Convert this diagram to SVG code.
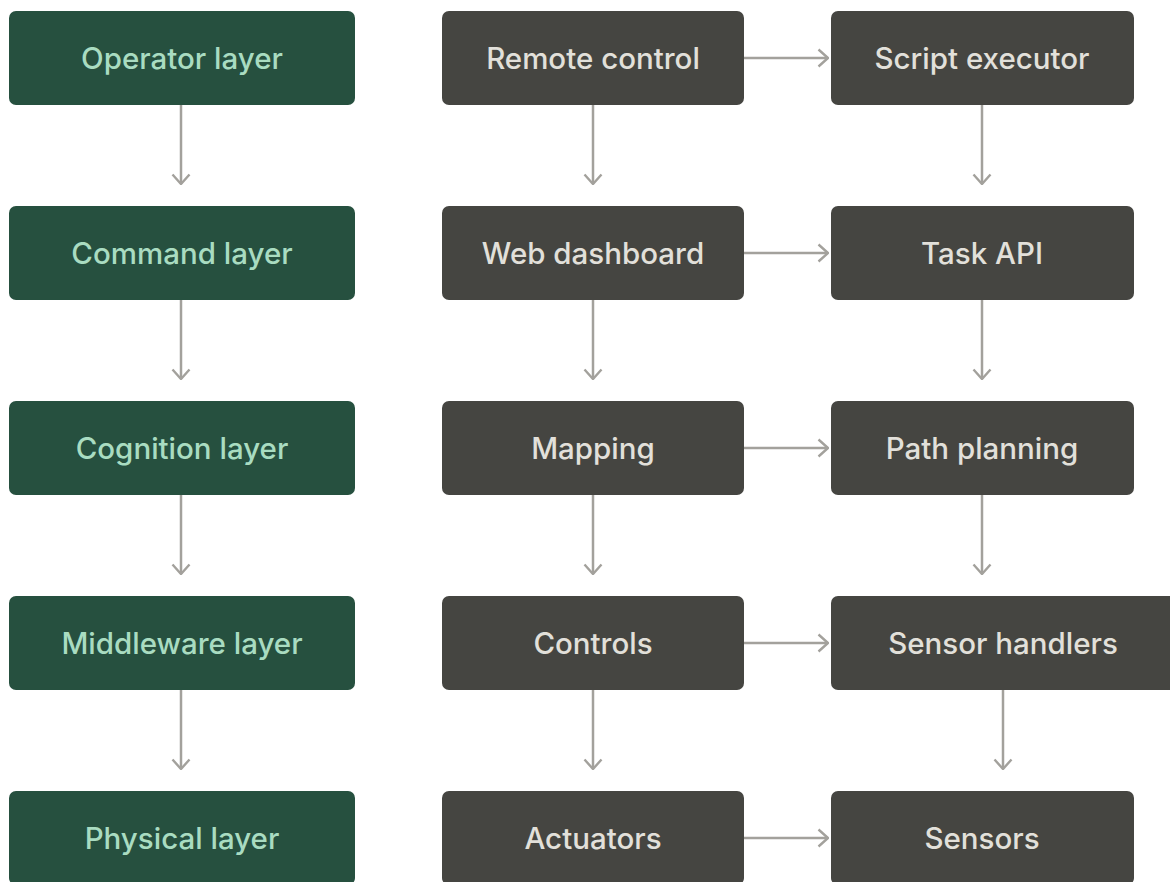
<svg xmlns="http://www.w3.org/2000/svg" width="1170" height="882" viewBox="0 0 1170 882">
<style>
.g rect{fill:#26503f}
.g text{fill:#a9dcc1}
.d rect{fill:#454541}
.d text{fill:#e2e0da}
text{font-family:Inter,"Noto Sans",sans-serif;font-size:29.5px;font-weight:500;text-anchor:middle;dominant-baseline:central}
.c path{fill:none;stroke:#a3a19c;stroke-width:2.5}
</style>
<defs>
<marker id="ah" viewBox="0 0 12 20" refX="11" refY="10" markerWidth="12" markerHeight="20" markerUnits="userSpaceOnUse" orient="auto">
<path d="M1.5,1.5 L11,10 L1.5,18.5" fill="none" stroke="#a3a19c" stroke-width="2.4"/>
</marker>
</defs>
<rect width="1170" height="882" fill="#ffffff"/>
<g class="c">
<path d="M181,105 V184" marker-end="url(#ah)"/>
<path d="M181,300 V379" marker-end="url(#ah)"/>
<path d="M181,495 V574" marker-end="url(#ah)"/>
<path d="M181,690 V769" marker-end="url(#ah)"/>
<path d="M593,105 V184" marker-end="url(#ah)"/>
<path d="M593,300 V379" marker-end="url(#ah)"/>
<path d="M593,495 V574" marker-end="url(#ah)"/>
<path d="M593,690 V769" marker-end="url(#ah)"/>
<path d="M982,105 V184" marker-end="url(#ah)"/>
<path d="M982,300 V379" marker-end="url(#ah)"/>
<path d="M982,495 V574" marker-end="url(#ah)"/>
<path d="M1003,690 V769" marker-end="url(#ah)"/>
<path d="M744,58 H828" marker-end="url(#ah)"/>
<path d="M744,253 H828" marker-end="url(#ah)"/>
<path d="M744,448 H828" marker-end="url(#ah)"/>
<path d="M744,643 H828" marker-end="url(#ah)"/>
<path d="M744,838 H828" marker-end="url(#ah)"/>
</g>
<g id="operator" class="g"><rect x="9" y="11" width="346" height="94" rx="7"/><text x="182" y="58">Operator layer</text></g>
<g id="command" class="g"><rect x="9" y="206" width="346" height="94" rx="7"/><text x="182" y="253">Command layer</text></g>
<g id="cognition" class="g"><rect x="9" y="401" width="346" height="94" rx="7"/><text x="182" y="448">Cognition layer</text></g>
<g id="middleware" class="g"><rect x="9" y="596" width="346" height="94" rx="7"/><text x="182" y="643">Middleware layer</text></g>
<g id="physical" class="g"><rect x="9" y="791" width="346" height="94" rx="7"/><text x="182" y="838">Physical layer</text></g>
<g id="remote" class="d"><rect x="442" y="11" width="302" height="94" rx="7"/><text x="593" y="58">Remote control</text></g>
<g id="web" class="d"><rect x="442" y="206" width="302" height="94" rx="7"/><text x="593" y="253">Web dashboard</text></g>
<g id="mapping" class="d"><rect x="442" y="401" width="302" height="94" rx="7"/><text x="593" y="448">Mapping</text></g>
<g id="controls" class="d"><rect x="442" y="596" width="302" height="94" rx="7"/><text x="593" y="643">Controls</text></g>
<g id="actuators" class="d"><rect x="442" y="791" width="302" height="94" rx="7"/><text x="593" y="838">Actuators</text></g>
<g id="script" class="d"><rect x="831" y="11" width="303" height="94" rx="7"/><text x="982" y="58">Script executor</text></g>
<g id="task" class="d"><rect x="831" y="206" width="303" height="94" rx="7"/><text x="982" y="253">Task API</text></g>
<g id="path" class="d"><rect x="831" y="401" width="303" height="94" rx="7"/><text x="982" y="448">Path planning</text></g>
<g id="sensorh" class="d"><rect x="831" y="596" width="350" height="94" rx="7"/><text x="1003" y="643">Sensor handlers</text></g>
<g id="sensors" class="d"><rect x="831" y="791" width="303" height="94" rx="7"/><text x="982" y="838">Sensors</text></g>
</svg>
